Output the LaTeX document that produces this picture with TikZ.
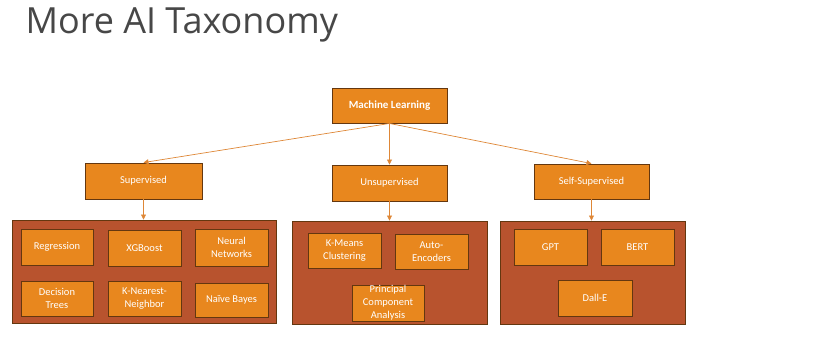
\documentclass[tikz,border=0pt]{standalone}
\usepackage{fontspec}
\setmainfont{Carlito}
\newfontfamily\titlefont{Open Sans}
\usetikzlibrary{arrows.meta}

\definecolor{mlorange}{RGB}{232,135,30}
\definecolor{mlrust}{RGB}{184,83,46}
\definecolor{mledge}{RGB}{100,55,15}
\definecolor{mlline}{RGB}{222,135,55}

\begin{document}
\begin{tikzpicture}[x=1pt,y=-1pt,>={Triangle[length=5pt,width=5pt]},
    box/.style={draw=mledge,line width=0.9pt,fill=mlorange,text=white,align=center,
        font=\fontsize{10.5}{13}\selectfont,inner sep=0pt},
    group/.style={draw=mledge,line width=0.9pt,fill=mlrust},
    link/.style={draw=mlline,line width=0.7pt,->}]
    \useasboundingbox (0,0) rectangle (821,338);

    % title
    \node[anchor=base west,text=black!72,font=\titlefont\fontsize{36}{40}\selectfont] (title) at (22,33) {More AI Taxonomy};

    % top level
    \node[box,minimum width=115pt,minimum height=35pt,font=\bfseries\fontsize{11}{12}\selectfont] (ml) at (389.5,105.5) {Machine Learning};

    % three kinds of learning
    \node[box,minimum width=117pt,minimum height=36pt] (sup) at (143.5,181) {Supervised};
    \node[box,minimum width=115pt,minimum height=36pt] (unsup) at (389.5,183) {Unsupervised};
    \node[box,minimum width=115pt,minimum height=35pt] (self) at (591.5,181.5) {Self-Supervised};

    % the big rust boxes behind the methods
    \node[group,minimum width=264pt,minimum height=103pt] (supgrp) at (144,271.5) {};
    \node[group,minimum width=195pt,minimum height=103pt] (unsupgrp) at (389.5,272.5) {};
    \node[group,minimum width=185pt,minimum height=103pt] (selfgrp) at (592.5,272.5) {};

    % supervised methods
    \node[box,minimum width=72pt,minimum height=36pt] (regr) at (57,247) {Regression};
    \node[box,minimum width=73pt,minimum height=36pt] (xgb) at (144.5,248) {XGBoost};
    \node[box,minimum width=73pt,minimum height=37pt] (nn) at (231.5,247.5) {Neural\\Networks};
    \node[box,minimum width=72pt,minimum height=35pt] (dtree) at (57,298.5) {Decision\\Trees};
    \node[box,minimum width=73pt,minimum height=35pt] (knn) at (144.5,298.5) {K-Nearest-\\Neighbor};
    \node[box,minimum width=73pt,minimum height=34pt] (bayes) at (231.5,300) {Naïve Bayes};

    % unsupervised methods
    \node[box,minimum width=73pt,minimum height=35pt] (kmeans) at (344.5,250.5) {K-Means\\Clustering};
    \node[box,minimum width=73pt,minimum height=35pt] (autoenc) at (431.5,251.5) {Auto-\\Encoders};
    \node[box,minimum width=72pt,minimum height=36pt] (pca) at (388,303) {Principal\\Component\\Analysis};

    % self-supervised methods
    \node[box,minimum width=73pt,minimum height=36pt] (gpt) at (550.5,247) {GPT};
    \node[box,minimum width=73pt,minimum height=36pt] (bert) at (637.5,247) {BERT};
    \node[box,minimum width=74pt,minimum height=36pt] (dalle) at (595,298) {Dall-E};

    % connectors
    \draw[link] (ml.south) -- (sup.north);
    \draw[link] (ml.south) -- (unsup.north);
    \draw[link] (ml.south) -- (self.north);
    \draw[link] (sup.south) -- (sup.south |- supgrp.north);
    \draw[link] (unsup.south) -- (unsup.south |- unsupgrp.north);
    \draw[link] (self.south) -- (self.south |- selfgrp.north);
\end{tikzpicture}
\end{document}
